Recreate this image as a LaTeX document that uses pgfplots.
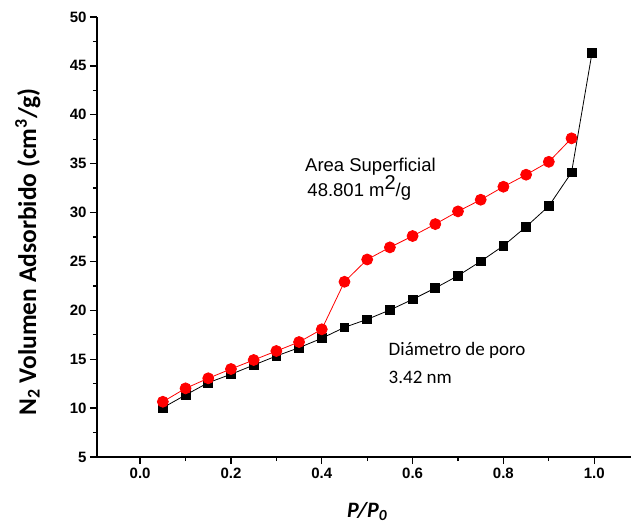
\documentclass[border=0pt]{standalone}
\usepackage{pgfplots}
\pgfplotsset{compat=1.18}
\usepackage{fontspec}
\setmainfont{Liberation Sans}
\newfontfamily\calibri{Carlito}
\begin{document}
\begin{tikzpicture}
\begin{axis}[
  scale only axis, width=534pt, height=440pt,
  xmin=-0.095, xmax=1.081, ymin=5, ymax=50,
  axis x line=bottom, axis y line=left,
  axis line style={line width=1.3pt,-},
  xtick={0,0.2,0.4,0.6,0.8,1.0}, ytick={5,10,...,50},
  minor tick num=1,
  tick align=outside,
  major tick length=7pt, minor tick length=4pt,
  tick style={line width=1.3pt, black},
  /pgf/number format/assume math mode=true,
  xticklabel style={font=\fontsize{15}{15}\selectfont\bfseries, /pgf/number format/.cd, fixed, fixed zerofill, precision=1},
  yticklabel style={font=\fontsize{15}{15}\selectfont\bfseries},
  xlabel={\calibri\bfseries\itshape\fontsize{22}{22}\selectfont P/P\textsubscript{0}},
  ylabel={\calibri\bfseries\fontsize{25.5}{25.5}\selectfont N\textsubscript{2} Volumen Adsorbido (cm\textsuperscript{3}/g)},
  xlabel style={at={(axis description cs:0.506,-0.1364)}, anchor=base},
  ylabel style={at={(axis description cs:-0.1142,0.466)}, anchor=base, rotate=0},
  clip=false,
]
\addplot[black, line width=0.8pt, mark=square*, mark size=4.4pt, mark options={solid}] coordinates {
(0.05,10.04) (0.10,11.34) (0.15,12.60) (0.20,13.46) (0.25,14.40) (0.30,15.33) (0.35,16.18) (0.40,17.14)
(0.45,18.26) (0.50,19.08) (0.55,20.03) (0.60,21.12) (0.65,22.28) (0.70,23.54) (0.75,25.01) (0.80,26.60)
(0.85,28.55) (0.90,30.66) (0.95,34.10) (0.995,46.30)
};
\addplot[red, line width=0.8pt, mark=*, mark size=5.5pt, mark options={solid, fill=red, draw=red}] coordinates {
(0.05,10.65) (0.10,12.02) (0.15,13.05) (0.20,14.00) (0.25,14.92) (0.30,15.84) (0.35,16.76) (0.40,18.06)
(0.45,22.92) (0.50,25.20) (0.55,26.44) (0.60,27.60) (0.65,28.82) (0.70,30.12) (0.75,31.31) (0.80,32.64)
(0.85,33.87) (0.90,35.19) (0.95,37.59)
};
\node[anchor=north west, inner sep=0pt, align=left, font=\fontsize{18.5}{25.3}\selectfont] at (axis cs:0.363,35.6) {Area Superficial\\\hspace*{2.3pt}48.801 m\smash{\raisebox{7pt}{\fontsize{20}{20}\selectfont 2}}/g};
\node[anchor=base west, inner sep=0pt, font=\calibri\fontsize{19}{19}\selectfont] at (axis cs:0.547,15.43) {Diámetro de poro};
\node[anchor=base west, inner sep=0pt, font=\calibri\fontsize{19}{19}\selectfont] at (axis cs:0.547,12.54) {3.42 nm};
\end{axis}
\pgfresetboundingbox
\path[use as bounding box] (-97pt,-70pt) rectangle (534pt,457pt);
\end{tikzpicture}
\end{document}
